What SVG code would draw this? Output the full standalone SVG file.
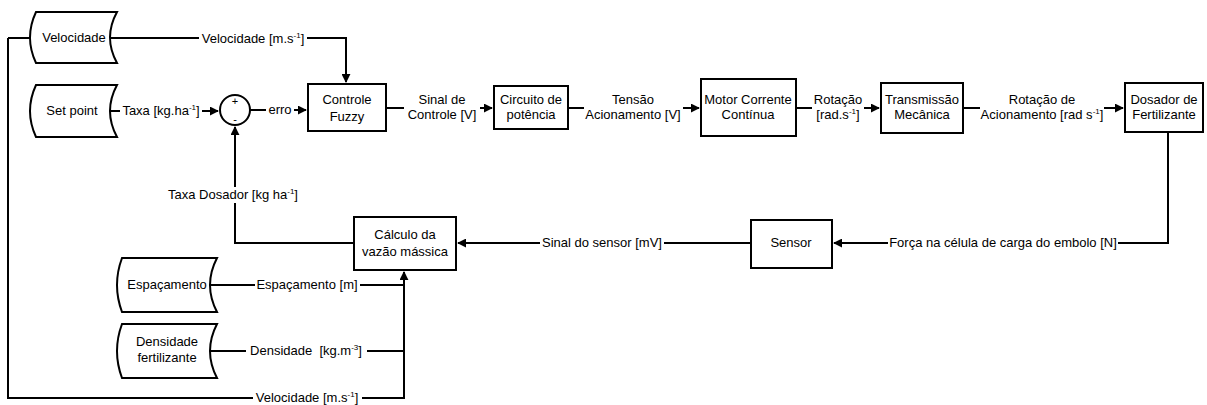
<svg xmlns="http://www.w3.org/2000/svg" width="1207" height="405" viewBox="0 0 1207 405">
<defs>
<marker id="arr" viewBox="0 0 10 10" refX="9" refY="5" markerWidth="9" markerHeight="9" markerUnits="userSpaceOnUse" orient="auto">
<path d="M0,0 L10,5 L0,10 Z" fill="#000"/>
</marker>
<style>
text{font-family:"Liberation Sans",Arial,sans-serif;font-size:13px;fill:#000;text-anchor:middle}
.box{fill:#fff;stroke:#000;stroke-width:2}
.ln{fill:none;stroke:#000;stroke-width:2}
.bg{fill:#fff;stroke:none}
.sup{font-size:8px}
</style>
</defs>
<rect width="1207" height="405" fill="#fff"/>
<g id="connectors">
<path class="ln" d="M110,38 H346 V82" marker-end="url(#arr)"/>
<path class="ln" d="M8,38 H30"/>
<path class="ln" d="M110,111 H218" marker-end="url(#arr)"/>
<path class="ln" d="M250,110 H306" marker-end="url(#arr)"/>
<path class="ln" d="M386,108 H492" marker-end="url(#arr)"/>
<path class="ln" d="M568,108 H699" marker-end="url(#arr)"/>
<path class="ln" d="M796,108 H879" marker-end="url(#arr)"/>
<path class="ln" d="M963,108 H1123" marker-end="url(#arr)"/>
<path class="ln" d="M1168,132 V243 H834" marker-end="url(#arr)"/>
<path class="ln" d="M751,243 H458" marker-end="url(#arr)"/>
<path class="ln" d="M354,243 H235 V127" marker-end="url(#arr)"/>
<path class="ln" d="M210,285 H404"/>
<path class="ln" d="M210,351 H404"/>
<path class="ln" d="M8,38 V398 H404 V272" marker-end="url(#arr)"/>
<g id="labels">
<rect class="bg" x="199" y="30" width="108" height="16"/>
<text x="253" y="43">Velocidade [m.s<tspan class="sup" dy="-5">-1</tspan><tspan dy="5">]</tspan></text>
<rect class="bg" x="120" y="103" width="82" height="16"/>
<text x="161" y="115">Taxa [kg.ha<tspan class="sup" dy="-5">-1</tspan><tspan dy="5">]</tspan></text>
<rect class="bg" x="266" y="102" width="28" height="16"/>
<text x="280" y="114">erro</text>
<rect class="bg" x="404" y="91" width="76" height="31"/>
<text x="442" y="104">Sinal de</text>
<text x="442" y="119">Controle [V]</text>
<rect class="bg" x="584" y="91" width="99" height="31"/>
<text x="633" y="104">Tensão</text>
<text x="633" y="119">Acionamento [V]</text>
<rect class="bg" x="812" y="91" width="52" height="31"/>
<text x="838" y="104">Rotação</text>
<text x="838" y="119">[rad.s<tspan class="sup" dy="-5">-1</tspan><tspan dy="5">]</tspan></text>
<rect class="bg" x="980" y="91" width="124" height="31"/>
<text x="1042" y="104">Rotação de</text>
<text x="1042" y="119">Acionamento [rad s<tspan class="sup" dy="-5">-1</tspan><tspan dy="5">]</tspan></text>
<rect class="bg" x="166" y="187" width="134" height="16"/>
<text x="233" y="199">Taxa Dosador [kg ha<tspan class="sup" dy="-5">-1</tspan><tspan dy="5">]</tspan></text>
<rect class="bg" x="540" y="235" width="124" height="16"/>
<text x="602" y="247">Sinal do sensor [mV]</text>
<rect class="bg" x="888" y="235" width="230" height="16"/>
<text x="1003" y="247">Força na célula de carga do embolo [N]</text>
<rect class="bg" x="255" y="277" width="105" height="16"/>
<text x="307" y="289">Espaçamento [m]</text>
<rect class="bg" x="246" y="342" width="121" height="16"/>
<text x="306" y="355">Densidade&#160; [kg.m<tspan class="sup" dy="-5">-3</tspan><tspan dy="5">]</tspan></text>
<rect class="bg" x="253" y="390" width="109" height="15"/>
<text x="307" y="402">Velocidade [m.s<tspan class="sup" dy="-5">-1</tspan><tspan dy="5">]</tspan></text>
</g>
</g>
<g id="velocidade">
<path class="box" d="M36,12 H117 Q103,37.5 117,63 H36 Q24,37.5 36,12 Z"/>
<text x="74" y="42">Velocidade</text>
</g>
<g id="setpoint">
<path class="box" d="M36,85 H117 Q103,111 117,137 H36 Q24,111 36,85 Z"/>
<text x="72" y="115">Set point</text>
</g>
<g id="soma">
<circle class="box" cx="235" cy="110" r="15"/>
<text x="235" y="105" style="font-size:11px">+</text>
<text x="235" y="123" style="font-size:11px">-</text>
</g>
<g id="controle">
<rect class="box" x="308" y="84" width="78" height="47"/>
<text x="347" y="104">Controle</text>
<text x="347" y="121">Fuzzy</text>
</g>
<g id="circuito">
<rect class="box" x="494" y="86" width="74" height="43"/>
<text x="531" y="104">Circuito de</text>
<text x="531" y="119">potência</text>
</g>
<g id="motor">
<rect class="box" x="701" y="79" width="95" height="57"/>
<text x="748" y="104">Motor Corrente</text>
<text x="748" y="119">Contínua</text>
</g>
<g id="transmissao">
<rect class="box" x="881" y="83" width="82" height="50"/>
<text x="922" y="104">Transmissão</text>
<text x="922" y="119">Mecânica</text>
</g>
<g id="dosador">
<rect class="box" x="1125" y="83" width="78" height="49"/>
<text x="1164" y="104">Dosador de</text>
<text x="1164" y="119">Fertilizante</text>
</g>
<g id="sensor">
<rect class="box" x="751" y="220" width="81" height="48"/>
<text x="791" y="247">Sensor</text>
</g>
<g id="calculo">
<rect class="box" x="354" y="217" width="102" height="53"/>
<text x="405" y="239">Cálculo da</text>
<text x="405" y="256">vazão mássica</text>
</g>
<g id="espacamento">
<path class="box" d="M122,258 H217 Q203,285 217,312 H122 Q112,285 122,258 Z"/>
<text x="167" y="289">Espaçamento</text>
</g>
<g id="densidade">
<path class="box" d="M122,324 H217 Q203,351 217,378 H122 Q112,351 122,324 Z"/>
<text x="167" y="346">Densidade</text>
<text x="167" y="362">fertilizante</text>
</g>
</svg>
